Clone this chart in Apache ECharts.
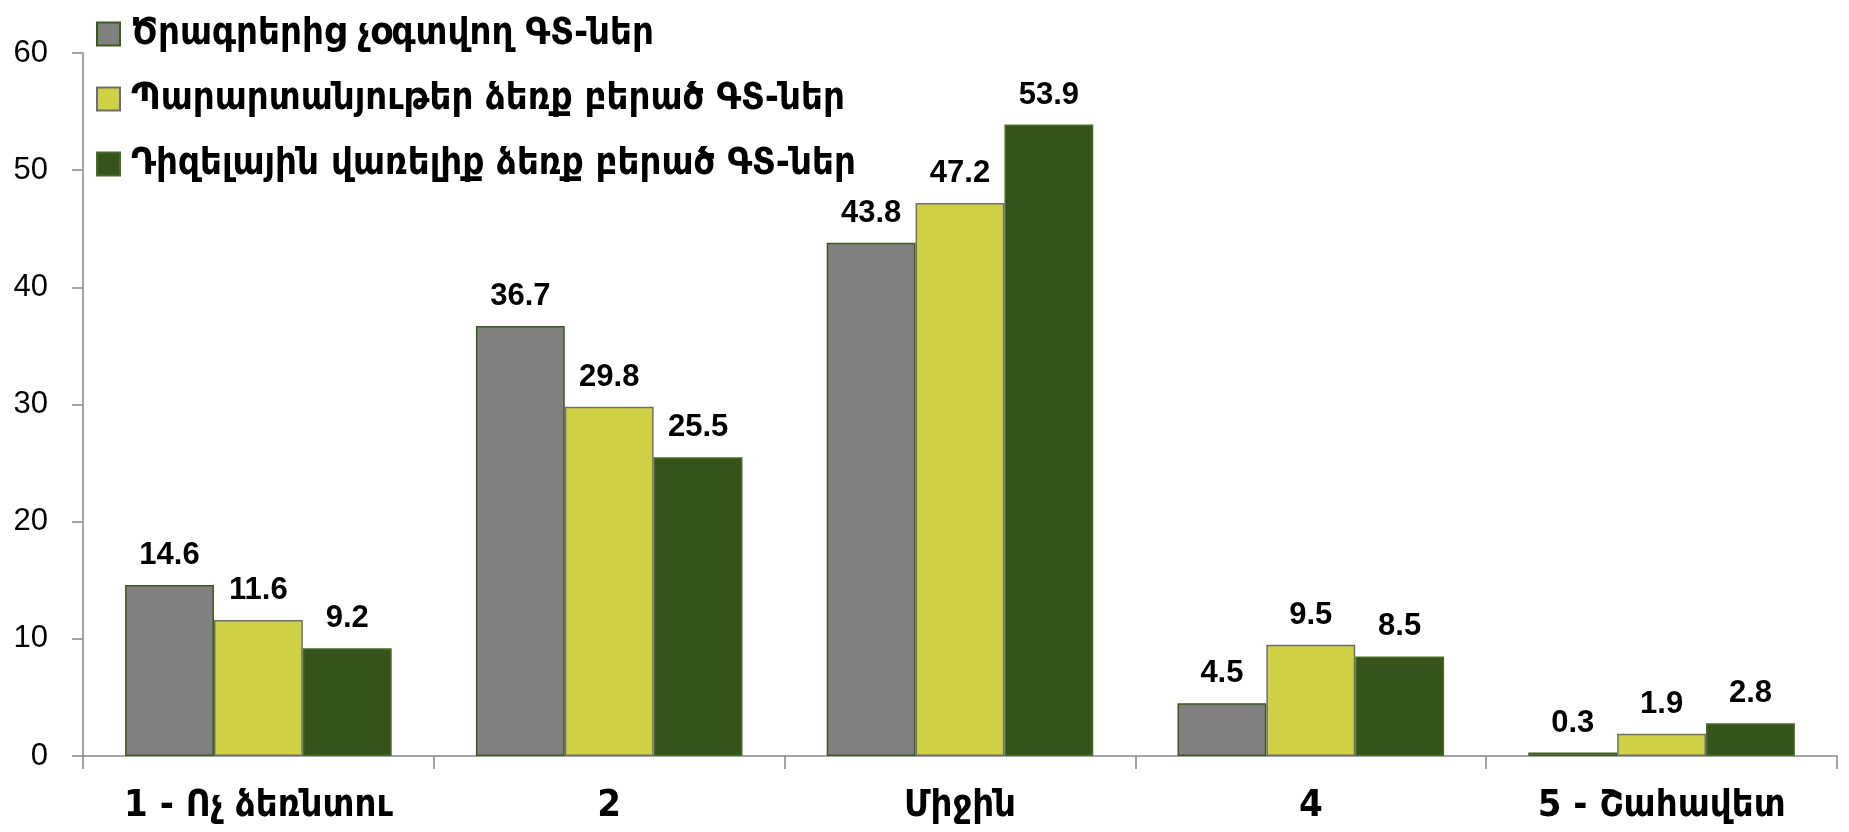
<!DOCTYPE html>
<html><head><meta charset="utf-8">
<script src="https://cdn.jsdelivr.net/npm/echarts@6/dist/echarts.min.js"></script>
<style>html,body{margin:0;padding:0;background:#fff}#c{width:1849px;height:832px}</style>
</head><body><div id="c"></div>
<script>
const categories = ['1 - Ոչ ձեռնտու', '2', 'Միջին', '4', '5 - Շահավետ'];
const seriesNames = ['Ծրագրերից չօգտվող ԳՏ-ներ', 'Պարարտանյութեր ձեռք բերած ԳՏ-ներ', 'Դիզելային վառելիք ձեռք բերած ԳՏ-ներ'];
const noProgram = [14.6, 36.7, 43.8, 4.5, 0.3];
const fertilizer = [11.6, 29.8, 47.2, 9.5, 1.9];
const diesel = [9.2, 25.5, 53.9, 8.5, 2.8];
const yTicks = {min: 0, max: 60, interval: 10};

const colors = ['#808080', '#CFD145', '#365319'];
const borders = ['#3d5a1a', '#6e6e6e', '#4a6a2a'];
const values = [noProgram, fertilizer, diesel];

const chart = echarts.init(document.getElementById('c'));
chart.setOption({
  animation: false,
  grid: {left: 83, right: 12, top: 53, bottom: 76},
  legend: {
    orient: 'vertical', left: 91, top: 10, itemWidth: 23, itemHeight: 23, itemGap: 27,
    icon: 'rect',
    textStyle: {fontFamily: 'DejaVu Sans Condensed', fontWeight: 'bold', fontSize: 38, lineHeight: 37, color: '#000', padding: [0, 0, 0, 6]},
    data: seriesNames
  },
  xAxis: {
    type: 'category', data: categories,
    axisLine: {lineStyle: {color: '#888', width: 1.5}},
    axisTick: {show: true, interval: 0, length: 13, lineStyle: {color: '#888', width: 1.5}},
    axisLabel: {interval: 0, hideOverlap: false, fontFamily: 'DejaVu Sans Condensed', fontWeight: 'bold', fontSize: 38, color: '#000', margin: 31}
  },
  yAxis: {
    type: 'value', min: yTicks.min, max: yTicks.max, interval: yTicks.interval,
    splitLine: {show: false},
    axisLine: {show: true, lineStyle: {color: '#888', width: 1.5}},
    axisTick: {show: true, length: 11, lineStyle: {color: '#888', width: 1.5}},
    axisLabel: {fontFamily: 'Liberation Sans', fontSize: 31, color: '#000', margin: 35}
  },
  series: values.map((v, i) => ({
    type: 'bar', name: seriesNames[i], data: v,
    barGap: '0%', barCategoryGap: '24%',
    itemStyle: {color: colors[i], borderColor: borders[i], borderWidth: 1.5},
    label: {show: true, position: 'top', distance: 14, fontFamily: 'Liberation Sans', fontWeight: 'bold', fontSize: 31, color: '#000', formatter: p => p.value.toFixed(1)}
  }))
});
</script></body></html>
